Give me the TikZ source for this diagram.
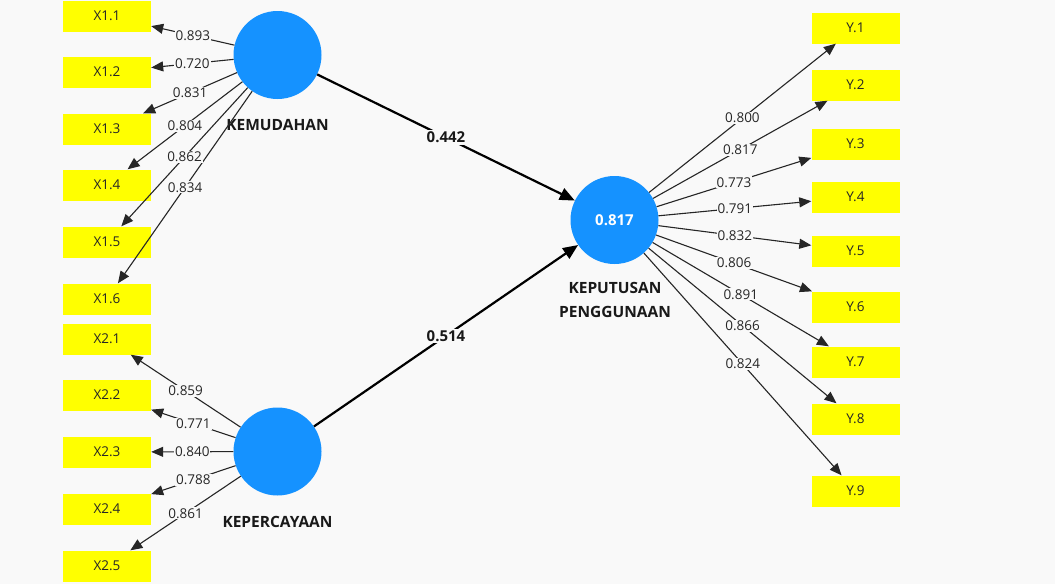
\documentclass[tikz,border=0pt]{standalone}
\usepackage{fontspec}
\setmainfont{Open Sans}
\usetikzlibrary{arrows.meta}
\definecolor{bg}{HTML}{F9F9F9}
\definecolor{lv}{HTML}{1592FF}
\definecolor{ind}{HTML}{FFFF00}
\definecolor{ln}{HTML}{262626}
\begin{document}
\begin{tikzpicture}[x=1pt,y=-1pt,
  indbox/.style={fill=ind, minimum width=88pt, minimum height=31pt, inner sep=0pt, font=\fontsize{13.5}{15}\selectfont, text=black!85},
  latent/.style={circle, fill=lv, minimum size=88pt, inner sep=0pt},
  lvname/.style={font=\bfseries\fontsize{15.5}{24}\selectfont, align=center, text=black!90},
  load/.style={draw=ln, line width=1.1pt, -{Triangle[length=12pt,width=10pt]}},
  loadlab/.style={fill=bg, inner sep=1pt, font=\fontsize{13.5}{15}\selectfont, text=black!85},
  pathc/.style={draw=black, line width=2.2pt, -{Triangle[length=15pt,width=12.5pt]}},
  pathlab/.style={fill=bg, inner sep=1.5pt, font=\bfseries\fontsize{15}{16}\selectfont, text=black!90}
]
\fill[bg] (0,0) rectangle (1055,584);
\useasboundingbox (0,0) rectangle (1055,584);

% latent variables
\node[latent] (km) at (277.5,55) {};
\node[latent] (kp) at (277.5,451.5) {};
\node[latent, text=white, font=\bfseries\fontsize{15}{16}\selectfont] (kk) at (614.5,220) {0.817};
\node[lvname] (kmlab) at (277.5,125) {KEMUDAHAN};
\node[lvname] (kplab) at (277.5,522) {KEPERCAYAAN};
\node[lvname] (kklab) at (615,300) {KEPUTUSAN\\PENGGUNAAN};

% indicator boxes
\foreach \n/\y in {1/16,2/72,3/129,4/185,5/242,6/299}
  \node[indbox] (xa\n) at (107,\y) {X1.\n};
\foreach \n/\y in {1/339,2/395,3/452,4/509,5/566}
  \node[indbox] (xb\n) at (107,\y) {X2.\n};
\foreach \n/\y in {1/28,2/85,3/144,4/197,5/251,6/307,7/362,8/419,9/491}
  \node[indbox] (y\n) at (855.5,\y) {Y.\n};

% loading connectors
\foreach \n in {1,...,6} \draw[load] (km) -- (xa\n);
\foreach \n in {1,...,5} \draw[load] (kp) -- (xb\n);
\foreach \n in {1,...,9} \draw[load] (kk) -- (y\n);

% path connectors
\draw[pathc] (km) -- (kk);
\draw[pathc] (kp) -- (kk);

% loading labels
\foreach \n/\v in {1/0.893,2/0.720,3/0.831,4/0.804,5/0.862,6/0.834}
  \path (km) -- node[loadlab] (la\n) {\v} (xa\n);
\foreach \n/\v in {1/0.859,2/0.771,3/0.840,4/0.788,5/0.861}
  \path (kp) -- node[loadlab] (lb\n) {\v} (xb\n);
\foreach \n/\v in {1/0.800,2/0.817,3/0.773,4/0.791,5/0.832,6/0.806,7/0.891,8/0.866,9/0.824}
  \path (kk) -- node[loadlab] (ly\n) {\v} (y\n);

% path labels
\path (km) -- node[pathlab] (p1) {0.442} (kk);
\path (kp) -- node[pathlab] (p2) {0.514} (kk);
\end{tikzpicture}
\end{document}
